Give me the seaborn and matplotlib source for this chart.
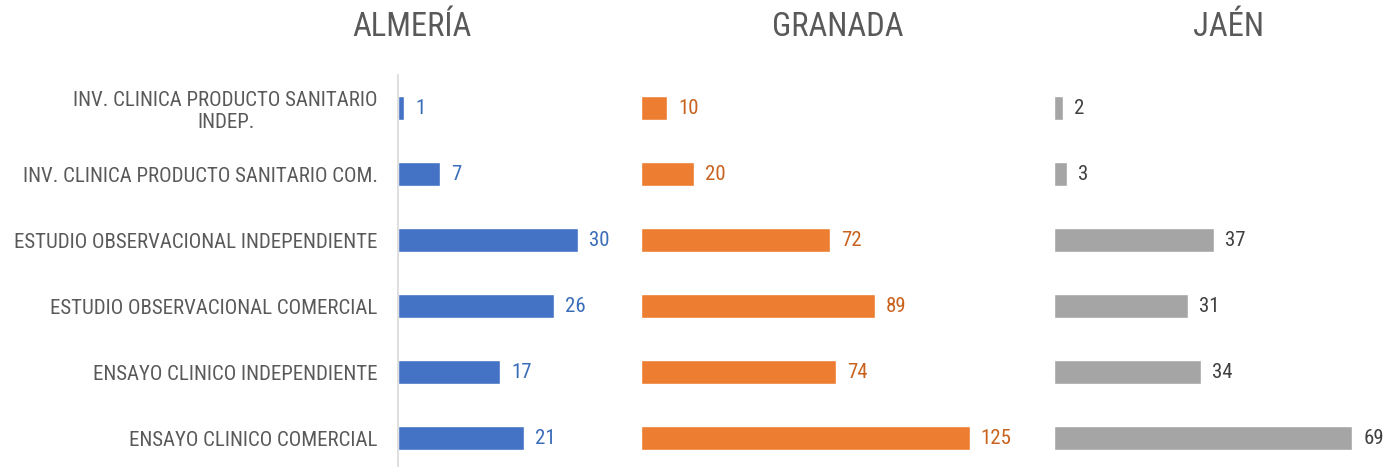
import matplotlib

matplotlib.use("Agg")

import matplotlib.pyplot as plt
import pandas as pd
import seaborn as sns
from matplotlib import font_manager

categories = [
    "INV. CLINICA PRODUCTO SANITARIO\nINDEP.",
    "INV. CLINICA PRODUCTO SANITARIO COM.",
    "ESTUDIO OBSERVACIONAL INDEPENDIENTE",
    "ESTUDIO OBSERVACIONAL COMERCIAL",
    "ENSAYO CLINICO INDEPENDIENTE",
    "ENSAYO CLINICO COMERCIAL",
]
provinces = ["ALMERÍA", "GRANADA", "JAÉN"]
almeria = [1, 7, 30, 26, 17, 21]
granada = [10, 20, 72, 89, 74, 125]
jaen = [2, 3, 37, 31, 34, 69]

bar_colors = ["#4472C4", "#ED7D31", "#A5A5A5"]
text_colors = ["#3A6DB8", "#C9621E", "#404040"]

sns.set_theme(style="white")

# Calibri is not available: pick a condensed family if there is one
installed = {f.name for f in font_manager.fontManager.ttflist}
if "Roboto Condensed" in installed:
    family, label_size, title_size = "Roboto Condensed", 15, 23.5
elif "Liberation Sans Narrow" in installed:
    family, label_size, title_size = "Liberation Sans Narrow", 15, 23
else:
    family, label_size, title_size = "Liberation Sans", 11.8, 20
plt.rcParams["font.family"] = [family, "DejaVu Sans"]

W, H = 1391, 467
fig = plt.figure(figsize=(W / 100, H / 100), dpi=100)

# panel layout in pixels: left edge, right edge, px per unit
panels = [(398, 620), (641, 1040), (1054, 1391)]
scales = [6.0, 2.63, 4.32]
title_x = [412, 838, 1228]
top_px, bot_px = 75, 467
row_px = 66

series = [almeria, granada, jaen]
for i, (name, values) in enumerate(zip(provinces, series)):
    left, right = panels[i]
    ax = fig.add_axes([left / W, 1 - bot_px / H, (right - left) / W, (bot_px - top_px) / H])
    df = pd.DataFrame({"categoria": categories, "valor": values})
    sns.barplot(data=df, x="valor", y="categoria", ax=ax, color=bar_colors[i],
                width=0.36, saturation=1, orient="h")
    ax.set_xlim(0, (right - left) / scales[i])
    ax.set_ylim(-0.5 + (bot_px - top_px) / row_px, -0.5)
    ax.bar_label(ax.containers[0], padding=8, color=text_colors[i], fontsize=label_size)
    ax.set_xlabel("")
    ax.set_ylabel("")
    ax.set_xticks([])
    for side in ["top", "right", "bottom", "left"]:
        ax.spines[side].set_visible(False)
    if i == 0:
        ax.spines["left"].set_visible(True)
        ax.spines["left"].set_color("#D9D9D9")
        ax.spines["left"].set_linewidth(1.2)
        ax.tick_params(axis="y", length=0, pad=14.5, labelsize=label_size, labelcolor="#595959")
        for lab in ax.get_yticklabels():
            lab.set_horizontalalignment("right")
            lab.set_multialignment("center")
    else:
        ax.set_yticks([])
    fig.text(title_x[i] / W, 1 - 27 / H, name, ha="center", va="center",
             fontsize=title_size, color="#595959")

fig.savefig("out.png", dpi=100, facecolor="white")
